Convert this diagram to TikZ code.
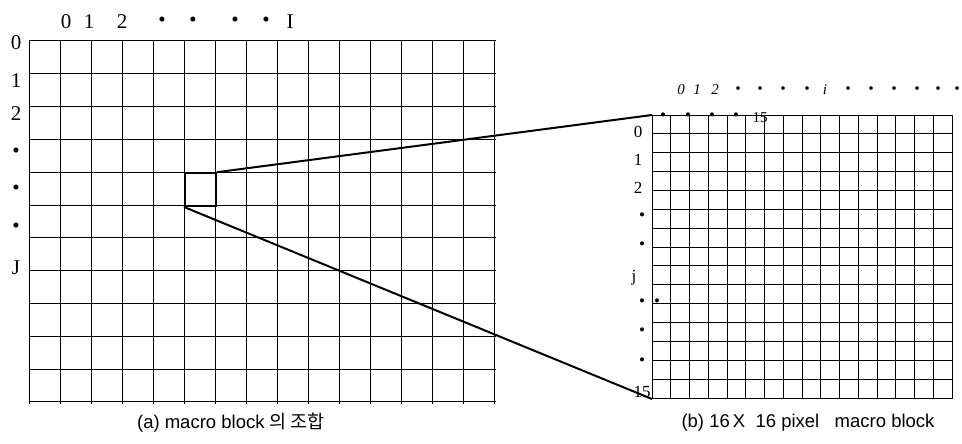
\documentclass[tikz,border=0pt]{standalone}
\usepackage{fontspec}
\setmainfont{Liberation Serif}
\newfontfamily\capfont{Liberation Sans}
\newfontfamily\krfont{Noto Sans CJK KR}
\begin{document}
\begin{tikzpicture}[x=1pt,y=-1pt,
    cell/.style={black,line width=1pt},
    zoomln/.style={black,line width=2pt},
    lbl/.style={font=\fontsize{21}{21}\selectfont,inner sep=0pt},
    sublbl/.style={font=\fontsize{17}{17}\selectfont,inner sep=0pt},
    toplbl/.style={font=\fontsize{15}{15}\selectfont\itshape,inner sep=0pt},
    captxt/.style={font=\capfont\fontsize{18.5}{19}\selectfont,inner sep=0pt}]
  \useasboundingbox (0,0) rectangle (962,444);
  % (a) the frame, 15 x 11 macro blocks
  \foreach \i in {0,...,15}
    \draw[cell] ({29+\i*31},41) -- ({29+\i*31},404);
  \foreach \j in {0,...,11}
    \draw[cell] (29,{41+\j*32.8}) -- (496,{41+\j*32.8});
  \node[draw,line width=2pt,inner sep=0pt,anchor=north west,
        minimum width=31pt,minimum height=32.8pt] (mb) at (184,172.2) {};
  % indices of the frame
  \foreach \t/\x [count=\k] in {0/66,1/89,2/122,\textbullet/162,\textbullet/193,
                                \textbullet/235,\textbullet/266,I/290}
    \node[lbl] (fx\k) at (\x,22) {\t};
  \foreach \t/\y [count=\k] in {0/43,1/81,2/114,\textbullet/153,\textbullet/190,
                                \textbullet/228,J/268}
    \node[lbl] (fy\k) at (16,\y) {\t};
  % (b) one macro block, 16 x 16 pixels
  \node[cell,draw,inner sep=0pt,anchor=north west,
        minimum width=300pt,minimum height=283pt] (blk) at (652,115) {};
  \foreach \i in {1,...,15}
    \draw[cell] ({652+\i*18.75},115) -- ({652+\i*18.75},398);
  \foreach \j in {1,...,14}
    \draw[cell] (652,{115+\j*18.87}) -- (952,{115+\j*18.87});
  % indices of the block
  \foreach \t/\x [count=\k] in {0/681,1/697,2/715,\textbullet/738,\textbullet/760,
                                \textbullet/783,\textbullet/807,i/825,\textbullet/848,
                                \textbullet/871,\textbullet/894,\textbullet/917,
                                \textbullet/938,\textbullet/957}
    \node[toplbl] (bx\k) at (\x,90) {\t};
  \foreach \x [count=\k] in {663,688,712,736}
    \node[sublbl] (bd\k) at (\x,117) {\textbullet};
  \node[sublbl,font=\fontsize{15}{15}\selectfont] (b15) at (760,118) {15};
  \foreach \t/\x/\y [count=\k] in {0/638/132,1/638/160,2/638/188,
                                   \textbullet/642/217,\textbullet/642/246,
                                   j/634/278,\textbullet/642/303,\textbullet/657/303,
                                   \textbullet/642/332,\textbullet/642/362,
                                   15/642/392}
    \node[sublbl] (by\k) at (\x,\y) {\t};
  % the zoom lines
  \draw[zoomln] (mb.north east) -- (blk.north west);
  \draw[zoomln] (mb.south west) -- (blk.south west);
  % captions
  \node[captxt] (capa) at (231,423) {(a) macro block {\krfont 의 조합}};
  \node[captxt] (capb) at (808,423) {(b) 16\,X\ \ 16 pixel\ \ \ macro block};
\end{tikzpicture}
\end{document}
